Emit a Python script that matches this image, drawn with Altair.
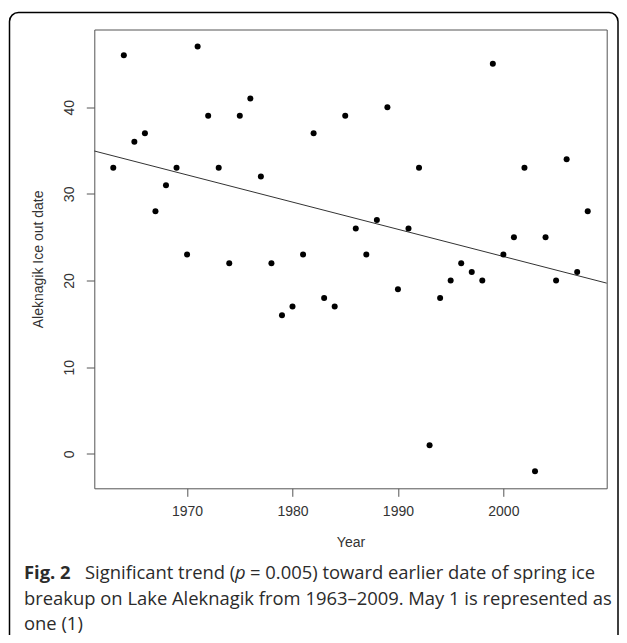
import altair as alt
import pandas as pd

years = list(range(1963, 2009))
ice_out = [33, 46, 36, 37, 28, 31, 33, 23, 47, 39,
           33, 22, 39, 41, 32, 22, 16, 17, 23, 37,
           18, 17, 39, 26, 23, 27, 40, 19, 26, 33,
           1, 18, 20, 22, 21, 20, 45, 23, 25, 33,
           -2, 25, 20, 34, 21, 28]
x_ticks = [1970, 1980, 1990, 2000]
y_ticks = [0, 10, 20, 30, 40]
x_domain = [1961.2, 2009.8]
y_domain = [-3.96, 48.96]

df = pd.DataFrame({"Year": years, "IceOut": ice_out})

W, H = 512.4, 458.8
LEFT, TOP = 94.3, 29.5  # plot origin on page

AXIS_FONT = "Liberation Sans"
CAP_FONT = "Open Sans"
CAP_SIZE = 18.4
CAP_COLOR = "#2b2b2b"

xs = alt.Scale(domain=x_domain, nice=False, zero=False)
ys = alt.Scale(domain=y_domain, nice=False, zero=False)

x_enc = alt.X("Year:Q", scale=xs, title="Year",
              axis=alt.Axis(values=x_ticks, format="d", grid=False, domain=False,
                            tickSize=8, tickColor="#555", labelColor="#333",
                            labelFont=AXIS_FONT, labelFontSize=14, labelPadding=8,
                            titleFont=AXIS_FONT, titleFontSize=14, titleFontWeight="normal",
                            titleColor="#333", titlePadding=17))
y_enc = alt.Y("IceOut:Q", scale=ys, title="Aleknagik Ice out date",
              axis=alt.Axis(values=y_ticks, grid=False, domain=False,
                            tickSize=8, tickColor="#555", labelColor="#333",
                            labelFont=AXIS_FONT, labelFontSize=14, labelPadding=10,
                            labelAngle=270, labelAlign="center", labelBaseline="bottom",
                            titleFont=AXIS_FONT, titleFontSize=14, titleFontWeight="normal",
                            titleColor="#333", titlePadding=17))

base = alt.Chart(df)
points = base.mark_circle(size=36, color="black", opacity=1).encode(x=x_enc, y=y_enc)
trend = base.transform_regression("Year", "IceOut", extent=x_domain).mark_line(
    color="#333", strokeWidth=1).encode(x=alt.X("Year:Q", scale=xs),
                                        y=alt.Y("IceOut:Q", scale=ys))

one = alt.Chart(pd.DataFrame({"k": [0]}))
border = one.mark_rect(cornerRadius=9, fillOpacity=0, stroke="black", strokeWidth=1.5).encode(
    x=alt.value(9.5 - LEFT), x2=alt.value(618 - LEFT),
    y=alt.value(12.5 - TOP), y2=alt.value(700 - TOP))

def cap(text, px, py, weight="normal", style="normal"):
    return one.mark_text(text=text, font=CAP_FONT, fontSize=CAP_SIZE, fontWeight=weight,
                         fontStyle=style, color=CAP_COLOR, align="left",
                         baseline="alphabetic").encode(
        x=alt.value(px - LEFT), y=alt.value(py - TOP))

caption = [
    cap("Fig. 2", 24, 579, weight="bold"),
    cap("Significant trend (", 85, 579),
    cap("p", 235, 579, style="italic"),
    cap("= 0.005) toward earlier date of spring ice", 250, 579),
    cap("breakup on Lake Aleknagik from 1963\u20132009. May 1 is represented as", 24, 604.5),
    cap("one (1)", 24, 629.5),
]

chart = alt.layer(border, trend, points, *caption).properties(
    width=W, height=H,
    autosize=alt.AutoSizeParams(type="none"),
    padding={"left": LEFT - 8, "top": TOP - 8, "right": 611 - (LEFT - 8) - W,
             "bottom": 627 - (TOP - 8) - H},
    background="white",
).configure_view(stroke="#555", strokeWidth=1)

chart.save("out.html", embed_options={"renderer": "svg", "actions": False})
